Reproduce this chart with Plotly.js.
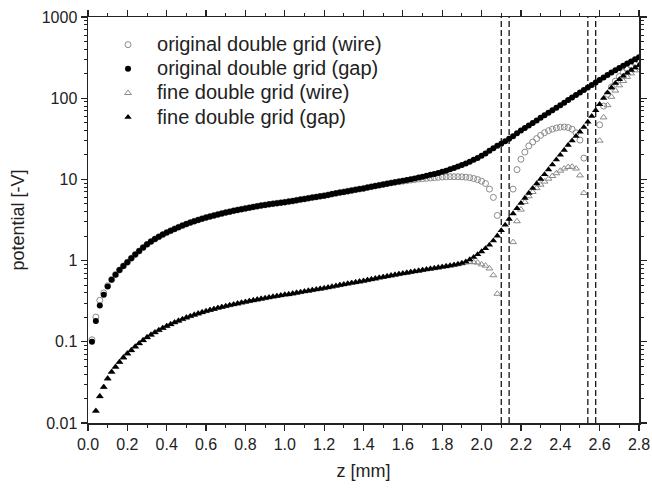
<!DOCTYPE html>
<html>
<head>
<meta charset="utf-8">
<script src="https://cdn.plot.ly/plotly-3.0.1.min.js"></script>
<style>html,body{margin:0;padding:0;background:#fff;}#chart{width:652px;height:488px;}</style>
</head>
<body>
<div id="chart"></div>
<script>
// z positions [mm]
const z = [
0.02,0.04,0.06,0.08,0.10,0.12,0.14,0.16,0.18,0.20,
0.22,0.24,0.26,0.28,0.30,0.32,0.34,0.36,0.38,0.40,
0.42,0.44,0.46,0.48,0.50,0.52,0.54,0.56,0.58,0.60,
0.62,0.64,0.66,0.68,0.70,0.72,0.74,0.76,0.78,0.80,
0.82,0.84,0.86,0.88,0.90,0.92,0.94,0.96,0.98,1.00,
1.02,1.04,1.06,1.08,1.10,1.12,1.14,1.16,1.18,1.20,
1.22,1.24,1.26,1.28,1.30,1.32,1.34,1.36,1.38,1.40,
1.42,1.44,1.46,1.48,1.50,1.52,1.54,1.56,1.58,1.60,
1.62,1.64,1.66,1.68,1.70,1.72,1.74,1.76,1.78,1.80,
1.82,1.84,1.86,1.88,1.90,1.92,1.94,1.96,1.98,2.00,
2.02,2.04,2.06,2.08,2.10,2.12,2.14,2.16,2.18,2.20,
2.22,2.24,2.26,2.28,2.30,2.32,2.34,2.36,2.38,2.40,
2.42,2.44,2.46,2.48,2.50,2.52,2.54,2.56,2.58,2.60,
2.62,2.64,2.66,2.68,2.70,2.72,2.74,2.76,2.78,2.80];

// original double grid (wire)
const origWire = [
0.106,0.202,0.324,0.400,0.490,0.585,0.675,0.765,0.860,0.955,
1.067,1.186,1.312,1.445,1.585,1.714,1.841,1.963,2.089,2.213,
2.333,2.455,2.576,2.698,2.818,2.938,3.055,3.170,3.281,3.388,
3.491,3.597,3.702,3.806,3.908,4.009,4.107,4.203,4.301,4.395,
4.487,4.581,4.671,4.764,4.853,4.932,5.012,5.093,5.170,5.248,
5.33,5.42,5.53,5.64,5.75,5.86,5.97,6.08,6.19,6.30,
6.44,6.59,6.73,6.88,7.02,7.17,7.31,7.46,7.60,7.75,
7.93,8.12,8.30,8.49,8.67,8.86,9.04,9.20,9.35,9.50,
9.65,9.80,9.95,10.1,10.2,10.3,10.4,10.5,10.6,10.7,
10.75,10.8,10.8,10.8,10.75,10.65,10.5,10.25,9.95,9.5,
8.9,7.6,6.0,3.6,null,null,null,7.6,13.2,17.7,
21.7,25.8,28.9,31.8,34.9,37.6,39.8,41.6,43.0,43.9,
44.2,43.5,41.5,37.5,30.5,18.3,null,null,null,47,
80,112,138,162,185,207,228,250,270,290];

// original double grid (gap)
const origGap = [
0.100,0.180,0.280,0.380,0.480,0.580,0.670,0.765,0.860,0.955,
1.067,1.186,1.312,1.445,1.585,1.714,1.841,1.963,2.089,2.213,
2.333,2.455,2.576,2.698,2.818,2.938,3.055,3.170,3.281,3.388,
3.491,3.597,3.702,3.806,3.908,4.009,4.107,4.203,4.301,4.395,
4.487,4.581,4.671,4.764,4.853,4.932,5.012,5.093,5.170,5.248,
5.33,5.42,5.53,5.64,5.75,5.86,5.97,6.08,6.19,6.30,
6.44,6.59,6.73,6.88,7.02,7.17,7.31,7.46,7.60,7.75,
7.93,8.12,8.30,8.49,8.67,8.86,9.04,9.23,9.41,9.60,
9.82,10.05,10.29,10.54,10.80,11.08,11.37,11.68,12.03,12.40,
12.8,13.3,13.8,14.4,15.0,15.7,16.5,17.4,18.4,19.5,
20.9,22.5,24.2,26.0,27.5,29.5,31.7,34.1,36.9,40.0,
43.0,46.2,49.6,53.3,57.3,61.5,66.1,71.0,76.3,82.0,
88.1,94.7,101.7,109.3,117.4,126.2,135.6,145.7,156.5,168,
180,193,207,221,236,251,267,284,302,320];

// fine double grid (wire)
const fineWire = [
null,0.0141,0.0213,0.0277,0.0352,0.0425,0.0490,0.0564,0.0639,0.0716,
0.0786,0.0870,0.0955,0.1045,0.1135,0.1220,0.1305,0.1390,0.1475,0.156,
0.1645,0.173,0.1815,0.190,0.1985,0.207,0.215,0.223,0.231,0.2385,
0.246,0.2535,0.261,0.268,0.275,0.282,0.289,0.296,0.303,0.310,
0.317,0.324,0.331,0.338,0.345,0.352,0.359,0.366,0.373,0.380,
0.385,0.393,0.401,0.409,0.417,0.425,0.433,0.441,0.449,0.457,
0.467,0.478,0.488,0.499,0.509,0.520,0.530,0.541,0.551,0.562,
0.575,0.588,0.601,0.615,0.628,0.641,0.655,0.668,0.682,0.695,
0.708,0.722,0.736,0.750,0.764,0.778,0.792,0.806,0.820,0.835,
0.850,0.866,0.883,0.902,0.925,0.950,0.960,0.955,0.945,0.900,
0.867,0.800,0.660,0.390,null,null,null,1.69,3.05,4.25,
5.27,6.2,7.0,7.8,8.6,9.4,10.2,11.0,11.9,12.8,
13.6,14.2,14.3,13.6,11.2,6.8,null,null,null,30,
58,82,104,124,144,163,183,202,220,238];

// fine double grid (gap)
const fineGap = [
null,0.0141,0.0213,0.0277,0.0352,0.0425,0.0490,0.0564,0.0639,0.0716,
0.0786,0.0870,0.0955,0.1045,0.1135,0.1220,0.1305,0.1390,0.1475,0.156,
0.1645,0.173,0.1815,0.190,0.1985,0.207,0.215,0.223,0.231,0.2385,
0.246,0.2535,0.261,0.268,0.275,0.282,0.289,0.296,0.303,0.310,
0.317,0.324,0.331,0.338,0.345,0.352,0.359,0.366,0.373,0.380,
0.385,0.393,0.401,0.409,0.417,0.425,0.433,0.441,0.449,0.457,
0.467,0.478,0.488,0.499,0.509,0.520,0.530,0.541,0.551,0.562,
0.575,0.588,0.601,0.615,0.628,0.641,0.655,0.668,0.682,0.695,
0.708,0.722,0.736,0.750,0.764,0.778,0.792,0.806,0.820,0.835,
0.850,0.866,0.883,0.902,0.930,0.970,1.03,1.10,1.19,1.29,
1.41,1.56,1.76,2.02,2.35,2.75,3.25,3.80,4.40,5.10,
5.9,6.8,7.8,8.9,10.1,11.5,13.2,15.2,17.5,20.0,
23.0,26.5,30.0,34.0,38.5,44.0,51.0,60.0,71.0,84.0,
100,117,135,153,170,188,205,222,238,254];

// grid wire planes (dashed lines), mm
const wireLines = [2.10, 2.14, 2.54, 2.58];

// y tick labels
const yTickVals = [0.01, 0.1, 1, 10, 100, 1000];
const yTickText = ['0.01', '0.1', '1', '10', '100', '1000'];

const seriesNames = ['original double grid (wire)', 'original double grid (gap)', 'fine double grid (wire)', 'fine double grid (gap)'];

const axisColor = '#222';
const fontFam = 'Arial, "Liberation Sans", Helvetica, sans-serif';
const legendLabel = s => '<span style="font-size:20px">' + s + '</span>';

const traces = [
  {x: z, y: origWire, name: legendLabel(seriesNames[0]), mode: 'markers', type: 'scatter',
   marker: {symbol: 'circle-open', size: 6, color: '#8a8a8a', line: {width: 1, color: '#8a8a8a'}}},
  {x: z, y: origGap, name: legendLabel(seriesNames[1]), mode: 'markers', type: 'scatter',
   marker: {symbol: 'circle', size: 6, color: '#000'}},
  {x: z, y: fineWire, name: legendLabel(seriesNames[2]), mode: 'markers', type: 'scatter',
   marker: {symbol: 'triangle-up-open', size: 6, color: '#8a8a8a', line: {width: 1, color: '#8a8a8a'}}},
  {x: z, y: fineGap, name: legendLabel(seriesNames[3]), mode: 'markers', type: 'scatter',
   marker: {symbol: 'triangle-up', size: 6.5, color: '#000'}}
];

const shapes = wireLines.map(v => ({
  type: 'line', xref: 'x', yref: 'paper', x0: v, x1: v, y0: 0, y1: 1,
  line: {color: '#000', width: 1.2, dash: '6px,3px'}
}));

const layout = {
  width: 652, height: 488,
  margin: {l: 88, r: 13, t: 17, b: 65},
  paper_bgcolor: '#fff', plot_bgcolor: '#fff',
  font: {family: fontFam, color: axisColor, size: 16},
  showlegend: true,
  xaxis: {
    range: [0, 2.8], tick0: 0, dtick: 0.2, tickformat: '.1f',
    ticks: 'outside', ticklen: 6, tickwidth: 1.2, tickcolor: axisColor,
    showline: true, linecolor: axisColor, linewidth: 1.5, mirror: 'allticks',
    showgrid: false, zeroline: false,
    tickfont: {size: 16, color: axisColor},
    minor: {dtick: 0.1, tick0: 0, ticks: 'outside', ticklen: 3, tickwidth: 1, tickcolor: axisColor, showgrid: false},
    title: {text: 'z [mm]', font: {size: 18, color: axisColor}, standoff: 12}
  },
  yaxis: {
    type: 'log', range: [-2, 3],
    tickmode: 'array', tickvals: yTickVals, ticktext: yTickText,
    ticks: 'outside', ticklen: 6, tickwidth: 1.2, tickcolor: axisColor,
    showline: true, linecolor: axisColor, linewidth: 1.5, mirror: 'allticks',
    showgrid: false, zeroline: false,
    tickfont: {size: 16, color: axisColor},
    minor: {dtick: 'D1', ticks: 'outside', ticklen: 3, tickwidth: 1, tickcolor: axisColor, showgrid: false},
    title: {text: 'potential [-V]', font: {size: 18, color: axisColor}, standoff: 12}
  },
  legend: {
    x: 0.02, y: 0.974, xanchor: 'left', yanchor: 'top',
    bgcolor: 'rgba(0,0,0,0)', borderwidth: 0, itemwidth: 48,
    font: {size: 16.3, color: axisColor}, tracegroupgap: 0
  },
  shapes: shapes
};

Plotly.newPlot('chart', traces, layout, {displayModeBar: false, staticPlot: true});
</script>
</body>
</html>
